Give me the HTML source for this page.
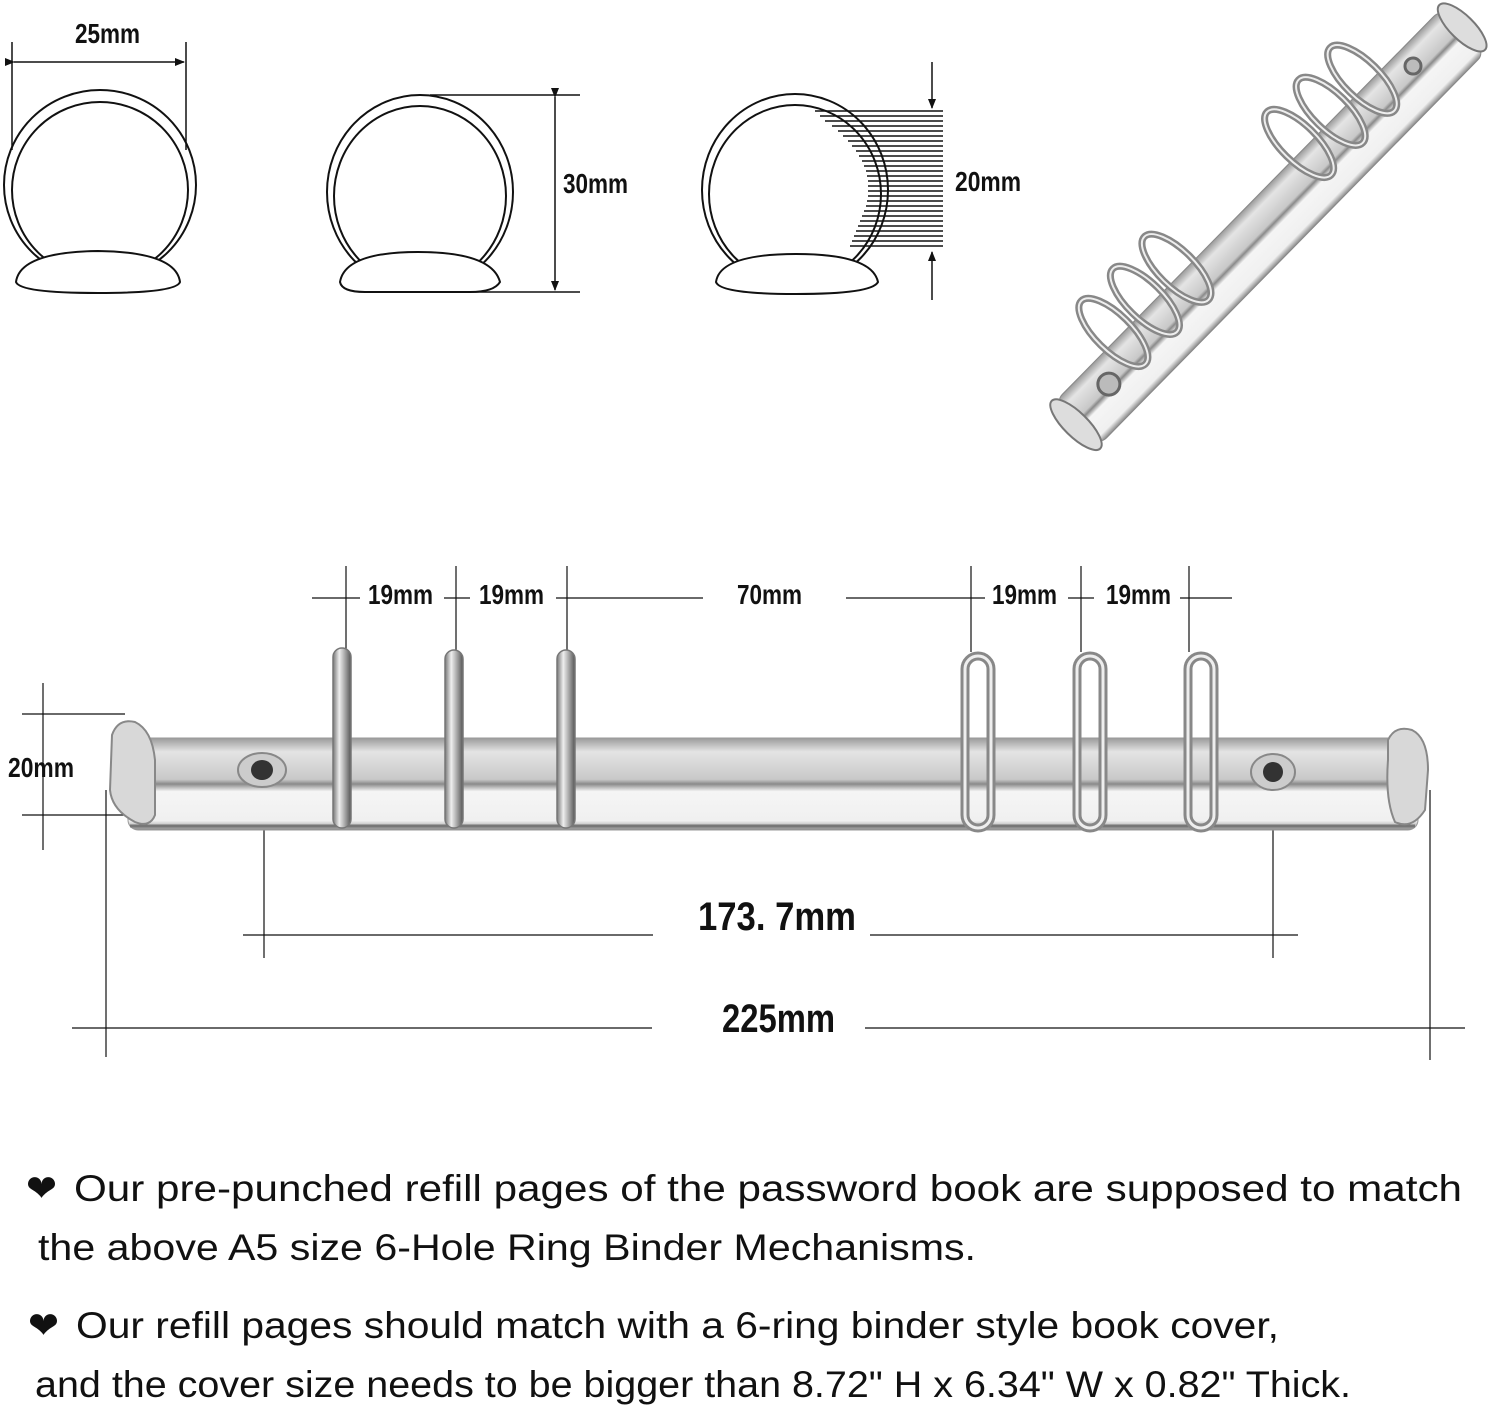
<!DOCTYPE html>
<html><head><meta charset="utf-8"><style>
html,body{margin:0;padding:0;background:#fff;}
svg{display:block;}
.d{font-family:"Liberation Sans Narrow","Liberation Sans",sans-serif;font-weight:bold;fill:#111;}
.t{font-family:"Liberation Sans","DejaVu Sans",sans-serif;fill:#111;font-size:37px;}
</style></head><body>
<svg width="1500" height="1409" viewBox="0 0 1500 1409" xmlns="http://www.w3.org/2000/svg">
<defs>
<marker id="ar" markerWidth="10" markerHeight="10" refX="9" refY="5" orient="auto" markerUnits="userSpaceOnUse" viewBox="0 0 10 10"><path d="M0,1 L10,5 L0,9 Z" fill="#111"/></marker>
<linearGradient id="bar" x1="0" y1="0" x2="0" y2="1">
<stop offset="0" stop-color="#9a9a9a"/><stop offset="0.15" stop-color="#e4e4e4"/><stop offset="0.45" stop-color="#c8c8c8"/><stop offset="0.5" stop-color="#8a8a8a"/><stop offset="0.58" stop-color="#f5f5f5"/><stop offset="0.9" stop-color="#f0f0f0"/><stop offset="1" stop-color="#888"/>
</linearGradient>
<linearGradient id="ring" x1="0" y1="0" x2="1" y2="0">
<stop offset="0" stop-color="#777"/><stop offset="0.35" stop-color="#eee"/><stop offset="0.65" stop-color="#aaa"/><stop offset="1" stop-color="#555"/>
</linearGradient>
</defs>
<g fill="none" stroke="#111" stroke-width="2">
<ellipse cx="100" cy="185" rx="96" ry="95"/>
<ellipse cx="100" cy="190" rx="88" ry="88"/>
<path d="M16,282 Q20,252 98,251 Q176,252 180,282 Q176,293 98,293 Q20,293 16,282 Z" fill="#fff"/>
<line x1="12" y1="42" x2="12" y2="150" stroke-width="1.5"/>
<line x1="186" y1="42" x2="186" y2="150" stroke-width="1.5"/>
<line x1="14" y1="62" x2="184" y2="62" stroke-width="1.5" marker-end="url(#ar)" marker-start="url(#ar)"/>
<ellipse cx="420" cy="192" rx="93" ry="97"/>
<ellipse cx="420" cy="196" rx="86" ry="90"/>
<path d="M340,282 Q345,252 418,252 Q492,252 500,282 Q494,292 470,292 L365,292 Q342,292 340,282 Z" fill="#fff"/>
<line x1="430" y1="95" x2="580" y2="95" stroke-width="1.5"/>
<line x1="468" y1="292" x2="580" y2="292" stroke-width="1.5"/>
<line x1="555" y1="97" x2="555" y2="290" stroke-width="1.5" marker-end="url(#ar)" marker-start="url(#ar)"/>
<ellipse cx="795" cy="190" rx="93" ry="96"/>
<ellipse cx="795" cy="194" rx="86" ry="89"/>
<path d="M716,282 Q720,254 796,254 Q872,254 878,282 Q872,294 796,294 Q720,294 716,282 Z" fill="#fff"/>
<line x1="932" y1="62" x2="932" y2="108" stroke-width="1.5" marker-end="url(#ar)"/>
<line x1="932" y1="300" x2="932" y2="252" stroke-width="1.5" marker-end="url(#ar)"/>
</g>
<g stroke="#111" stroke-width="1.6">
<line x1="815" y1="111" x2="943" y2="111"/><line x1="820" y1="116" x2="943" y2="116"/><line x1="825" y1="121" x2="943" y2="121"/><line x1="832" y1="126" x2="943" y2="126"/><line x1="838" y1="131" x2="943" y2="131"/><line x1="843" y1="136" x2="943" y2="136"/><line x1="848" y1="141" x2="943" y2="141"/><line x1="852" y1="146" x2="943" y2="146"/><line x1="856" y1="151" x2="943" y2="151"/><line x1="859" y1="156" x2="943" y2="156"/><line x1="862" y1="161" x2="943" y2="161"/><line x1="864" y1="166" x2="943" y2="166"/><line x1="866" y1="171" x2="943" y2="171"/><line x1="867" y1="176" x2="943" y2="176"/><line x1="868" y1="181" x2="943" y2="181"/><line x1="868" y1="186" x2="943" y2="186"/><line x1="868" y1="191" x2="943" y2="191"/><line x1="868" y1="196" x2="943" y2="196"/><line x1="867" y1="201" x2="943" y2="201"/><line x1="866" y1="206" x2="943" y2="206"/><line x1="864" y1="211" x2="943" y2="211"/><line x1="862" y1="216" x2="943" y2="216"/><line x1="860" y1="221" x2="943" y2="221"/><line x1="858" y1="226" x2="943" y2="226"/><line x1="856" y1="231" x2="943" y2="231"/><line x1="854" y1="236" x2="943" y2="236"/><line x1="852" y1="241" x2="943" y2="241"/><line x1="850" y1="246" x2="943" y2="246"/>
</g>
<text class="d" x="75" y="43" font-size="28" textLength="65" lengthAdjust="spacingAndGlyphs">25mm</text>
<text class="d" x="563" y="193" font-size="28" textLength="65" lengthAdjust="spacingAndGlyphs">30mm</text>
<text class="d" x="955" y="191" font-size="28" textLength="66" lengthAdjust="spacingAndGlyphs">20mm</text>

<g transform="translate(1268,225) rotate(-45.5)">
<rect x="-275" y="-28" width="550" height="62" rx="10" fill="url(#bar)" stroke="#888"/>
<ellipse cx="-277" cy="3" rx="12" ry="34" fill="#ddd" stroke="#777" stroke-width="2"/>
<ellipse cx="277" cy="0" rx="12" ry="32" fill="#ddd" stroke="#777" stroke-width="2"/>
<circle cx="-225" cy="-2" r="11" fill="#bbb" stroke="#666" stroke-width="3"/>
<circle cx="215" cy="-8" r="8" fill="#bbb" stroke="#666" stroke-width="3"/>
<g fill="none" stroke="#888" stroke-width="7">
<ellipse cx="-185" cy="-35" rx="18" ry="45"/><ellipse cx="-140" cy="-35" rx="18" ry="45"/><ellipse cx="-95" cy="-35" rx="18" ry="45"/>
<ellipse cx="80" cy="-35" rx="18" ry="45"/><ellipse cx="125" cy="-35" rx="18" ry="45"/><ellipse cx="170" cy="-35" rx="18" ry="45"/>
</g>
<g fill="none" stroke="#eee" stroke-width="2">
<ellipse cx="-185" cy="-35" rx="18" ry="45"/><ellipse cx="-140" cy="-35" rx="18" ry="45"/><ellipse cx="-95" cy="-35" rx="18" ry="45"/>
<ellipse cx="80" cy="-35" rx="18" ry="45"/><ellipse cx="125" cy="-35" rx="18" ry="45"/><ellipse cx="170" cy="-35" rx="18" ry="45"/>
</g>
</g>

<g stroke="#111" stroke-width="1.2">
<line x1="346" y1="566" x2="346" y2="650"/><line x1="456" y1="566" x2="456" y2="650"/><line x1="567" y1="566" x2="567" y2="650"/>
<line x1="971" y1="566" x2="971" y2="652"/><line x1="1081" y1="566" x2="1081" y2="652"/><line x1="1189" y1="566" x2="1189" y2="652"/>
<line x1="312" y1="598" x2="360" y2="598"/><line x1="444" y1="598" x2="470" y2="598"/><line x1="556" y1="598" x2="703" y2="598"/>
<line x1="846" y1="598" x2="985" y2="598"/><line x1="1068" y1="598" x2="1094" y2="598"/><line x1="1180" y1="598" x2="1232" y2="598"/>
<line x1="22" y1="714" x2="125" y2="714"/><line x1="22" y1="815" x2="125" y2="815"/><line x1="43" y1="683" x2="43" y2="850"/>
<line x1="106" y1="790" x2="106" y2="1057"/><line x1="1430" y1="790" x2="1430" y2="1060"/>
<line x1="264" y1="785" x2="264" y2="958"/><line x1="1273" y1="790" x2="1273" y2="958"/>
<line x1="243" y1="935" x2="653" y2="935"/><line x1="870" y1="935" x2="1298" y2="935"/>
<line x1="72" y1="1028" x2="652" y2="1028"/><line x1="865" y1="1028" x2="1465" y2="1028"/>
</g>
<g class="d" font-size="28">
<text x="368" y="604" textLength="65" lengthAdjust="spacingAndGlyphs">19mm</text>
<text x="479" y="604" textLength="65" lengthAdjust="spacingAndGlyphs">19mm</text>
<text x="737" y="604" textLength="65" lengthAdjust="spacingAndGlyphs">70mm</text>
<text x="992" y="604" textLength="65" lengthAdjust="spacingAndGlyphs">19mm</text>
<text x="1106" y="604" textLength="65" lengthAdjust="spacingAndGlyphs">19mm</text>
<text x="8" y="777" textLength="66" lengthAdjust="spacingAndGlyphs">20mm</text>
<text x="698" y="930" font-size="40" textLength="158" lengthAdjust="spacingAndGlyphs">173. 7mm</text>
<text x="722" y="1032" font-size="40" textLength="113" lengthAdjust="spacingAndGlyphs">225mm</text>
</g>

<rect x="128" y="738" width="1290" height="92" rx="10" fill="url(#bar)" stroke="#9a9a9a"/>
<line x1="130" y1="826" x2="1415" y2="826" stroke="#777" stroke-width="3"/>
<path d="M112,735 Q118,718 135,722 Q152,730 155,760 L155,815 Q150,828 135,822 Q112,810 110,790 Z" fill="#d8d8d8" stroke="#888" stroke-width="2"/>
<path d="M1388,740 Q1395,725 1412,730 Q1428,738 1428,770 L1425,810 Q1412,830 1395,822 Q1385,800 1388,760 Z" fill="#d8d8d8" stroke="#888" stroke-width="2"/>
<ellipse cx="262" cy="770" rx="24" ry="17" fill="#ccc" stroke="#888" stroke-width="2"/>
<ellipse cx="262" cy="770" rx="11" ry="10" fill="#333"/>
<ellipse cx="1273" cy="772" rx="22" ry="18" fill="#ccc" stroke="#888" stroke-width="2"/>
<ellipse cx="1273" cy="772" rx="10" ry="10" fill="#333"/>
<g fill="url(#ring)" stroke="#777" stroke-width="1.5">
<rect x="333" y="648" width="18" height="180" rx="9"/>
<rect x="445" y="650" width="18" height="178" rx="9"/>
<rect x="557" y="650" width="18" height="178" rx="9"/>
</g>
<g fill="none" stroke="#888" stroke-width="9">
<rect x="965" y="656" width="26" height="172" rx="13"/>
<rect x="1077" y="656" width="26" height="172" rx="13"/>
<rect x="1188" y="656" width="26" height="172" rx="13"/>
</g>
<g fill="none" stroke="#eee" stroke-width="3">
<rect x="965" y="656" width="26" height="172" rx="13"/>
<rect x="1077" y="656" width="26" height="172" rx="13"/>
<rect x="1188" y="656" width="26" height="172" rx="13"/>
</g>

<text class="t" x="26" y="1201" font-size="32">❤</text>
<text class="t" x="74" y="1201" textLength="1388" lengthAdjust="spacingAndGlyphs">Our pre-punched refill pages of the password book are supposed to match</text>
<text class="t" x="38" y="1260" textLength="938" lengthAdjust="spacingAndGlyphs">the above A5 size 6-Hole Ring Binder Mechanisms.</text>
<text class="t" x="28" y="1338" font-size="32">❤</text>
<text class="t" x="76" y="1338" textLength="1203" lengthAdjust="spacingAndGlyphs">Our refill pages should match with a 6-ring binder style book cover,</text>
<text class="t" x="35" y="1397" textLength="1316" lengthAdjust="spacingAndGlyphs">and the cover size needs to be bigger than 8.72" H x 6.34" W x 0.82" Thick.</text>
</svg>
</body></html>
